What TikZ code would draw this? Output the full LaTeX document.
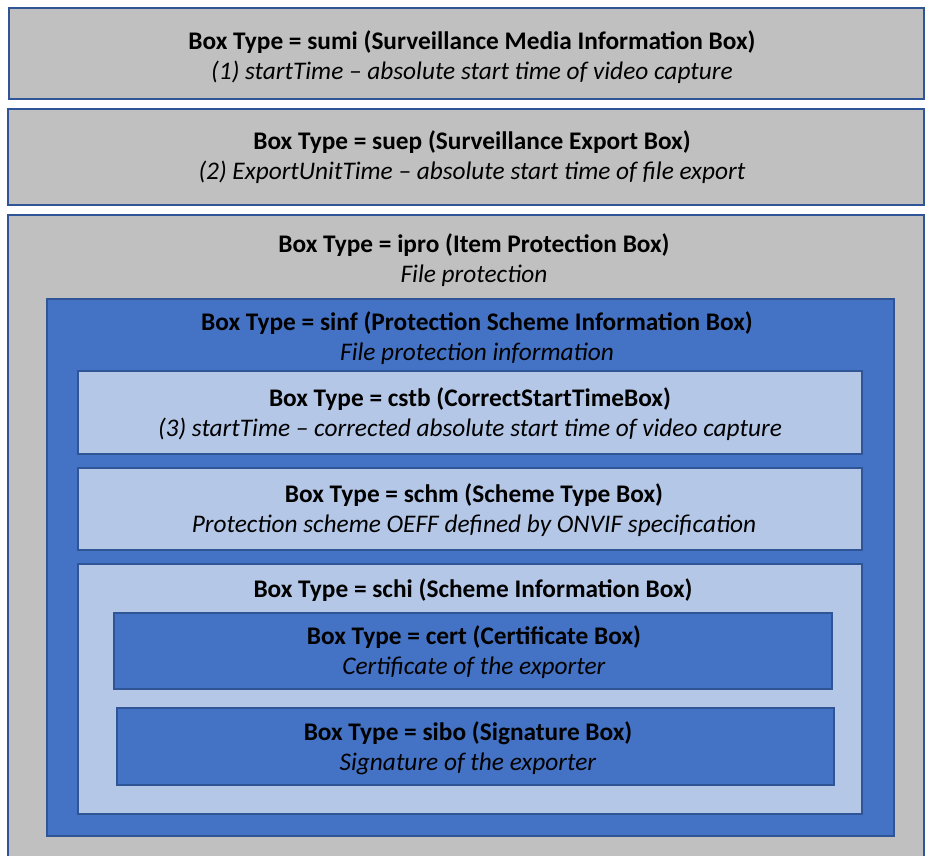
\documentclass[tikz,border=0pt]{standalone}
\usepackage{fontspec}
\setmainfont{Carlito}
\definecolor{boxgray}{RGB}{192,192,192}
\definecolor{boxblue}{RGB}{68,114,196}
\definecolor{boxlight}{RGB}{180,199,231}
\definecolor{boxedge}{RGB}{47,85,151}
\tikzset{
  graybox/.style={draw=boxedge, fill=boxgray, line width=1.1pt},
  bluebox/.style={draw=boxedge, fill=boxblue, line width=1.1pt},
  lightbox/.style={draw=boxedge, fill=boxlight, line width=1.1pt},
  boxtext/.style={align=center, inner sep=0pt, text=black,
    font=\fontsize{19}{22.5}\selectfont},
}

\begin{document}
\begin{tikzpicture}[x=0.75pt, y=-0.75pt]
  \clip (0,0) rectangle (925,856);
  \fill[white] (0,0) rectangle (925,856);

  % outer boxes
  \draw[graybox] (9,8) rectangle (924,99);
  \draw[graybox] (8,109) rectangle (924,205);
  \draw[graybox] (8,215) rectangle (924,880);

  % protection scheme and its children
  \draw[bluebox]  (47,299) rectangle (894,836);
  \draw[lightbox] (78,371) rectangle (862,454);
  \draw[lightbox] (78,468) rectangle (862,550);
  \draw[lightbox] (78,564) rectangle (862,814);
  \draw[bluebox]  (114,613) rectangle (832,689);
  \draw[bluebox]  (117,708) rectangle (834,785);

  \node (sumi) [boxtext] at (472,57)
    {\textbf{Box Type = sumi (Surveillance Media Information Box)}\\
     \textit{(1) startTime -- absolute start time of video capture}};
  \node (suep) [boxtext] at (472,157)
    {\textbf{Box Type = suep (Surveillance Export Box)}\\
     \textit{(2) ExportUnitTime -- absolute start time of file export}};
  \node (ipro) [boxtext] at (474,260)
    {\textbf{Box Type = ipro (Item Protection Box)}\\
     \textit{File protection}};
  \node (sinf) [boxtext] at (477,338)
    {\textbf{Box Type = sinf (Protection Scheme Information Box)}\\
     \textit{File protection information}};
  \node (cstb) [boxtext] at (470,414)
    {\textbf{Box Type = cstb (CorrectStartTimeBox)}\\
     \textit{(3) startTime -- corrected absolute start time of video capture}};
  \node (schm) [boxtext] at (474,510)
    {\textbf{Box Type = schm (Scheme Type Box)}\\
     \textit{Protection scheme OEFF defined by ONVIF specification}};
  \node (schi) [boxtext] at (473,590)
    {\textbf{Box Type = schi (Scheme Information Box)}};
  \node (cert) [boxtext] at (474,652)
    {\textbf{Box Type = cert (Certificate Box)}\\
     \textit{Certificate of the exporter}};
  \node (sibo) [boxtext] at (468,748)
    {\textbf{Box Type = sibo (Signature Box)}\\
     \textit{Signature of the exporter}};
\end{tikzpicture}
\end{document}
